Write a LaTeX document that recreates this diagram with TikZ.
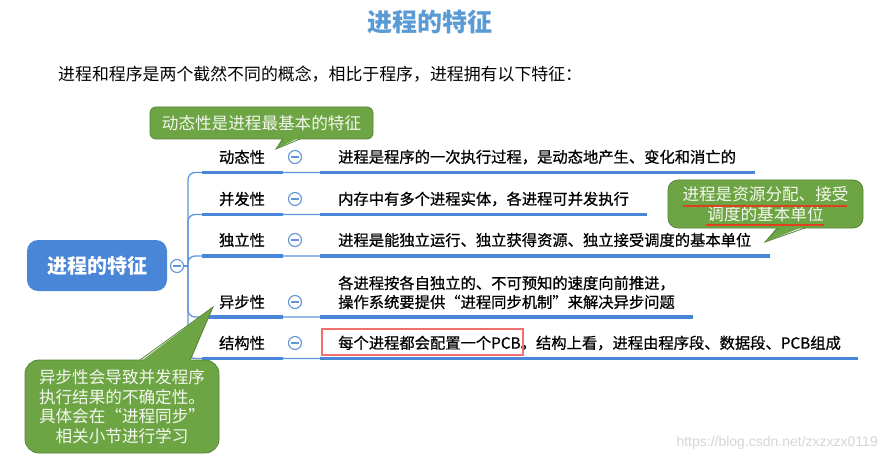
\documentclass[tikz,border=0pt]{standalone}
\usepackage{fontspec}
\setmainfont{Noto Sans CJK SC}
\newfontfamily\medfont[FakeBold=0.7]{Noto Sans CJK SC}
\newfontfamily\wmfont{Liberation Sans}
\definecolor{titleblue}{HTML}{5B9BD5}
\definecolor{rootblue}{HTML}{4A86D8}
\definecolor{ulblue}{HTML}{4A86D8}
\definecolor{brline}{HTML}{6095DC}
\definecolor{cgreen}{HTML}{6DA544}
\definecolor{cgreenb}{HTML}{55853A}
\definecolor{ctext}{HTML}{F4F8EE}
\definecolor{redul}{HTML}{E0401E}
\definecolor{redbox}{HTML}{F07070}
\definecolor{wmgray}{HTML}{D6D6D6}
\tikzset{
  branchline/.style={draw=brline, line width=1.3pt},
  underl/.style={draw=ulblue, line width=3.4pt},
  lbl/.style={font=\medfont\fontsize{15.3}{18}\selectfont, text=black, inner sep=0pt},
  desc/.style={font=\medfont\fontsize{15.3}{19}\selectfont, text=black, inner sep=0pt, anchor=west, align=left},
  minusbtn/.style={circle, draw=brline, line width=1.1pt, fill=white, minimum size=13pt, inner sep=0pt},
  calloutbox/.style={fill=cgreen, draw=cgreenb, line width=0.8pt, text=ctext, align=center,
     font=\fontsize{16.6}{19.5}\selectfont},
}
\begin{document}
\begin{tikzpicture}[x=1pt,y=-1pt]
\useasboundingbox (0,0) rectangle (888,457);
\fill[white] (0,0) rectangle (888,457);

% title and intro
\node[font=\fontsize{25}{28}\selectfont\bfseries, text=titleblue, inner sep=0pt] (title) at (430,22) {进程的特征};
\node[font=\fontsize{16.9}{19}\selectfont, text=black, inner sep=0pt, anchor=west] (intro) at (58,74) {进程和程序是两个截然不同的概念，相比于程序，进程拥有以下特征：};

% root
\node[fill=rootblue, rounded corners=11pt, minimum width=140pt, minimum height=51pt, text=white,
      font=\fontsize{20}{22}\selectfont\bfseries, inner sep=0pt] (root) at (97,265.5) {进程的特征};
\node[minusbtn] (rc) at (177,266) {};
\coordinate (sp) at (188,266);

% row end coordinates
\coordinate (e1) at (755,172.5);
\coordinate (e2) at (647,214.5);
\coordinate (e3) at (770,256);
\coordinate (e4) at (693,317);
\coordinate (e5) at (858,358.5);

% branches
\draw[branchline] (rc.east) -- (sp);
\foreach \e in {e1,e2,e3,e4,e5}{
  \draw[branchline, rounded corners=7pt] (sp) |- (\e);
}
\foreach \e in {e1,e2,e3,e4,e5}{
  \draw[underl] (202,0 |- \e) -- (283,0 |- \e);
  \draw[underl] (320,0 |- \e) -- (\e);
}

% labels
\node[lbl] (l1) at (242,157) {动态性};
\node[lbl] (l2) at (242,199) {并发性};
\node[lbl] (l3) at (242,240) {独立性};
\node[lbl] (l4) at (242,302) {异步性};
\node[lbl] (l5) at (242,343) {结构性};

% minus buttons
\foreach \n/\y in {c1/157,c2/199,c3/240,c4/302,c5/343}{
  \node[minusbtn] (\n) at (295,\y) {};
  \draw[brline, line width=1.1pt] ([xshift=-3.6pt]\n.center) -- ([xshift=3.6pt]\n.center);
}
\draw[brline, line width=1.1pt] ([xshift=-3.6pt]rc.center) -- ([xshift=3.6pt]rc.center);

% descriptions
\node[desc] (d1) at (338,157) {进程是程序的一次执行过程，是动态地产生、变化和消亡的};
\node[desc] (d2) at (338,199) {内存中有多个进程实体，各进程可并发执行};
\node[desc] (d3) at (338,240) {进程是能独立运行、独立获得资源、独立接受调度的基本单位};
\node[desc] (d4) at (338,292.5) {各进程按各自独立的、不可预知的速度向前推进，\\操作系统要提供“进程同步机制”来解决异步问题};
\node[desc] (d5) at (338,343) {每个进程都会配置一个PCB。结构上看，进程由程序段、数据段、PCB组成};
\draw[redbox, line width=1.2pt] (322,329) rectangle (523,355);

% callout 1
\node[calloutbox, rounded corners=6pt, minimum width=223pt, minimum height=32pt, inner sep=0pt] (k1) at (261.5,123) {动态性是进程最基本的特征};
\coordinate (t1) at (276,149);
\fill[cgreen] (283,137) -- (t1) -- (300,137) -- cycle;
\draw[cgreenb, line width=0.8pt] (283,139) -- (t1) -- (300,139);

% callout 2
\node[calloutbox, rounded corners=10pt, minimum width=195pt, minimum height=48pt, inner sep=0pt] (k2) at (765.5,204) {进程是资源分配、接受\\调度的基本单位};
\coordinate (t2) at (765,242);
\fill[cgreen] (778,226) -- (t2) -- (805,226) -- cycle;
\draw[cgreenb, line width=0.8pt] (778,228) -- (t2) -- (805,228);
\draw[redul, line width=1.4pt] (683,206) -- (847,206);
\draw[redul, line width=1.4pt] (706,225) -- (824,225);

% callout 3
\node[calloutbox, rounded corners=14pt, minimum width=194pt, minimum height=93pt, inner sep=0pt] (k3) at (122,406.5) {异步性会导致并发程序\\执行结果的不确定性。\\具体会在“进程同步”\\相关小节进行学习};
\coordinate (t3) at (213,307);
\fill[cgreen] (140,362) -- (t3) -- (190,362) -- cycle;
\draw[cgreenb, line width=0.8pt] (140,360) -- (t3) -- (190,360);

% watermark
\node[font=\wmfont\fontsize{14}{16}\selectfont, text=wmgray, inner sep=0pt, anchor=east] (wm) at (878,443) {https://blog.csdn.net/zxzxzx0119};
\end{tikzpicture}
\end{document}
